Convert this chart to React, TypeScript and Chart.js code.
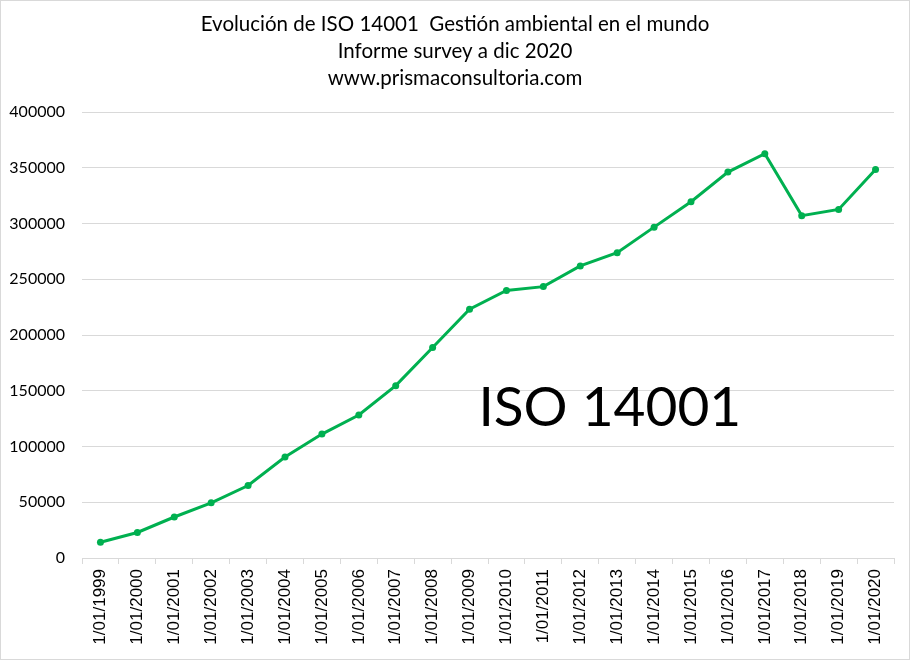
import React, { useEffect, useRef } from "react";
import { Chart, registerables } from "chart.js";

Chart.register(...registerables);

const TITLE_LINES = [
  "Evolución de ISO 14001  Gestión ambiental en el mundo",
  "Informe survey a dic 2020",
  "www.prismaconsultoria.com",
];

const CATEGORIES = [
  "1/01/1999", "1/01/2000", "1/01/2001", "1/01/2002", "1/01/2003", "1/01/2004",
  "1/01/2005", "1/01/2006", "1/01/2007", "1/01/2008", "1/01/2009", "1/01/2010",
  "1/01/2011", "1/01/2012", "1/01/2013", "1/01/2014", "1/01/2015", "1/01/2016",
  "1/01/2017", "1/01/2018", "1/01/2019", "1/01/2020",
];

const ISO_14001 = [
  14106, 22897, 36765, 49440, 64996, 90554, 111162, 128211, 154572, 188815,
  223149, 239880, 243393, 261957, 273861, 296736, 319496, 346147, 362610,
  307059, 312580, 348473,
];

const Y_MIN = 0;
const Y_MAX = 400000;
const Y_STEP = 50000;

const ANNOTATION_TEXT = "ISO 14001";
const ANNOTATION_X_INDEX = 13.8;
const ANNOTATION_Y_VALUE = 118000;

const TITLE_FONT = "20.5px Lato";
const TITLE_FIRST_LINE_Y = 23;
const TITLE_LINE_STEP = 27;

const titlePlugin = {
  id: "centeredTitle",
  afterDraw(chart: any) {
    const { ctx, width } = chart;
    ctx.save();
    ctx.font = TITLE_FONT;
    ctx.fillStyle = "#000000";
    ctx.textAlign = "center";
    ctx.textBaseline = "middle";
    TITLE_LINES.forEach((line, i) => {
      ctx.fillText(line, width / 2, TITLE_FIRST_LINE_Y + i * TITLE_LINE_STEP);
    });
    ctx.restore();
  },
};

const annotationPlugin = {
  id: "bigLabel",
  afterDatasetsDraw(chart: any) {
    const { ctx, scales } = chart;
    const x = scales.x.getPixelForValue(ANNOTATION_X_INDEX);
    const y = scales.y.getPixelForValue(ANNOTATION_Y_VALUE);
    ctx.save();
    ctx.font = "55px Lato";
    ctx.fillStyle = "#000000";
    ctx.textAlign = "center";
    ctx.textBaseline = "alphabetic";
    ctx.fillText(ANNOTATION_TEXT, x, y);
    ctx.restore();
  },
};

export default function App() {
  const canvasRef = useRef<HTMLCanvasElement | null>(null);

  useEffect(() => {
    document.body.style.margin = "0";
    const canvas = canvasRef.current;
    if (!canvas) return;
    const chart = new Chart(canvas, {
      type: "line",
      data: {
        labels: CATEGORIES,
        datasets: [
          {
            label: "ISO 14001",
            data: ISO_14001,
            borderColor: "#00b050",
            backgroundColor: "#00b050",
            borderWidth: 3,
            pointRadius: 3.5,
            pointBackgroundColor: "#00b050",
            pointBorderColor: "#00b050",
            pointBorderWidth: 0,
            tension: 0,
          },
        ],
      },
      options: {
        responsive: false,
        animation: false,
        layout: { padding: { left: 0, right: 15, top: 111, bottom: 0 } },
        plugins: {
          legend: { display: false },
          tooltip: { enabled: false },
          title: { display: false },
        },
        scales: {
          x: {
            type: "category",
            offset: true,
            grid: {
              display: true,
              drawOnChartArea: false,
              drawTicks: true,
              tickLength: 6,
              color: "#d9d9d9",
              offset: true,
            },
            border: { display: true, color: "#d9d9d9", width: 1 },
            ticks: {
              color: "#000000",
              font: { family: "Liberation Sans", size: 17 },
              minRotation: 90,
              maxRotation: 90,
              autoSkip: false,
              padding: 5,
            },
            afterFit(scale: any) {
              scale.height = 101;
            },
          },
          y: {
            min: Y_MIN,
            max: Y_MAX,
            grid: { color: "#d9d9d9", drawTicks: false, lineWidth: 1 },
            border: { display: false },
            ticks: {
              stepSize: Y_STEP,
              color: "#000000",
              font: { family: "Lato", size: 16 },
              padding: 17,
              callback: (value: any) => String(value),
            },
            afterFit(scale: any) {
              scale.width = 81;
            },
          },
        },
      },
      plugins: [titlePlugin, annotationPlugin],
    });
    return () => chart.destroy();
  }, []);

  return (
    <div
      style={{
        width: 910,
        height: 660,
        boxSizing: "border-box",
        border: "1px solid #d9d9d9",
        background: "#ffffff",
      }}
    >
      <canvas ref={canvasRef} width={908} height={658} style={{ display: "block" }} />
    </div>
  );
}
